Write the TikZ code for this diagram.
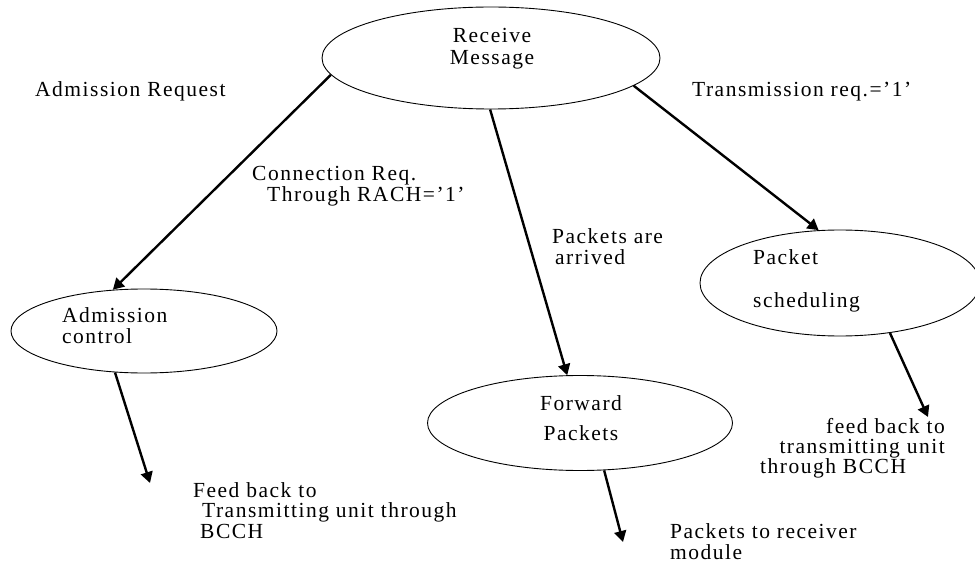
\documentclass[tikz,border=0pt]{standalone}
\usepackage{fontspec}
\setmainfont{Liberation Serif}[LetterSpace=7]
\usetikzlibrary{shapes.geometric,arrows.meta}
\begin{document}
\begin{tikzpicture}[x=1pt,y=-1pt,
  every node/.style={font=\fontsize{21.5}{22}\selectfont, inner sep=0pt},
  proc/.style={ellipse, draw, line width=0.9pt},
  lw/.style={anchor=base west},
  le/.style={anchor=base east},
  lc/.style={anchor=base},
  flow/.style={line width=2.4pt, -{Triangle[length=11pt,width=12pt]}}]
\useasboundingbox (0,0) rectangle (975,564);
\clip (0,0) rectangle (975,564);

% ellipses
\node[proc, minimum width=338pt, minimum height=102pt] (rm) at (491,58) {};
\node[proc, minimum width=266pt, minimum height=84pt] (ac) at (144,331) {};
\node[proc, minimum width=305pt, minimum height=95pt] (fp) at (580,423) {};
\node[proc, minimum width=280pt, minimum height=106pt] (ps) at (840,283) {};

% texts inside ellipses
\node[lc] (rmt1) at (492,43) {Receive};
\node[lc] (rmt2) at (492,65) {Message};
\node[lw] (act1) at (62,323) {Admission};
\node[lw] (act2) at (62,343) {control};
\node[lc] (fpt1) at (581,410) {Forward};
\node[lc] (fpt2) at (581,440) {Packets};
\node[lw] (pst1) at (753,265) {Packet};
\node[lw] (pst2) at (753,307) {scheduling};

% labels
\node[lw] (l1) at (35,97) {Admission Request};
\node[lw] (l2) at (692,97) {Transmission req.=’1’};
\node[lw] (l3a) at (252,181) {Connection Req.};
\node[lw] (l3b) at (267,202) {Through RACH=’1’};
\node[lw] (l4a) at (552,244) {Packets are};
\node[lw] (l4b) at (555,265) {arrived};
\node[le] (l5a) at (945,433) {feed back to};
\node[le] (l5b) at (945,453) {transmitting unit};
\node[lw] (l5c) at (760,473) {through BCCH};
\node[lw] (l6a) at (193,497) {Feed back to};
\node[lw] (l6b) at (202,517) {Transmitting unit through};
\node[lw] (l6c) at (200,538) {BCCH};
\node[lw] (l7a) at (670,538) {Packets to receiver};
\node[lw] (l7b) at (670,559) {module};

% free ends
\coordinate (e1) at (150,483);
\coordinate (e2) at (623,542);
\coordinate (e3) at (928,417);

% connectors
\draw[flow] (rm.186) -- (ac.127);
\draw[flow] (rm.269) -- (fp.105);
\draw[flow] (rm.349) -- (ps.112);
\draw[flow] (ac.235) -- (e1);
\draw[flow] (fp.297) -- (e2);
\draw[flow] (ps.315) -- (e3);
\end{tikzpicture}
\end{document}
